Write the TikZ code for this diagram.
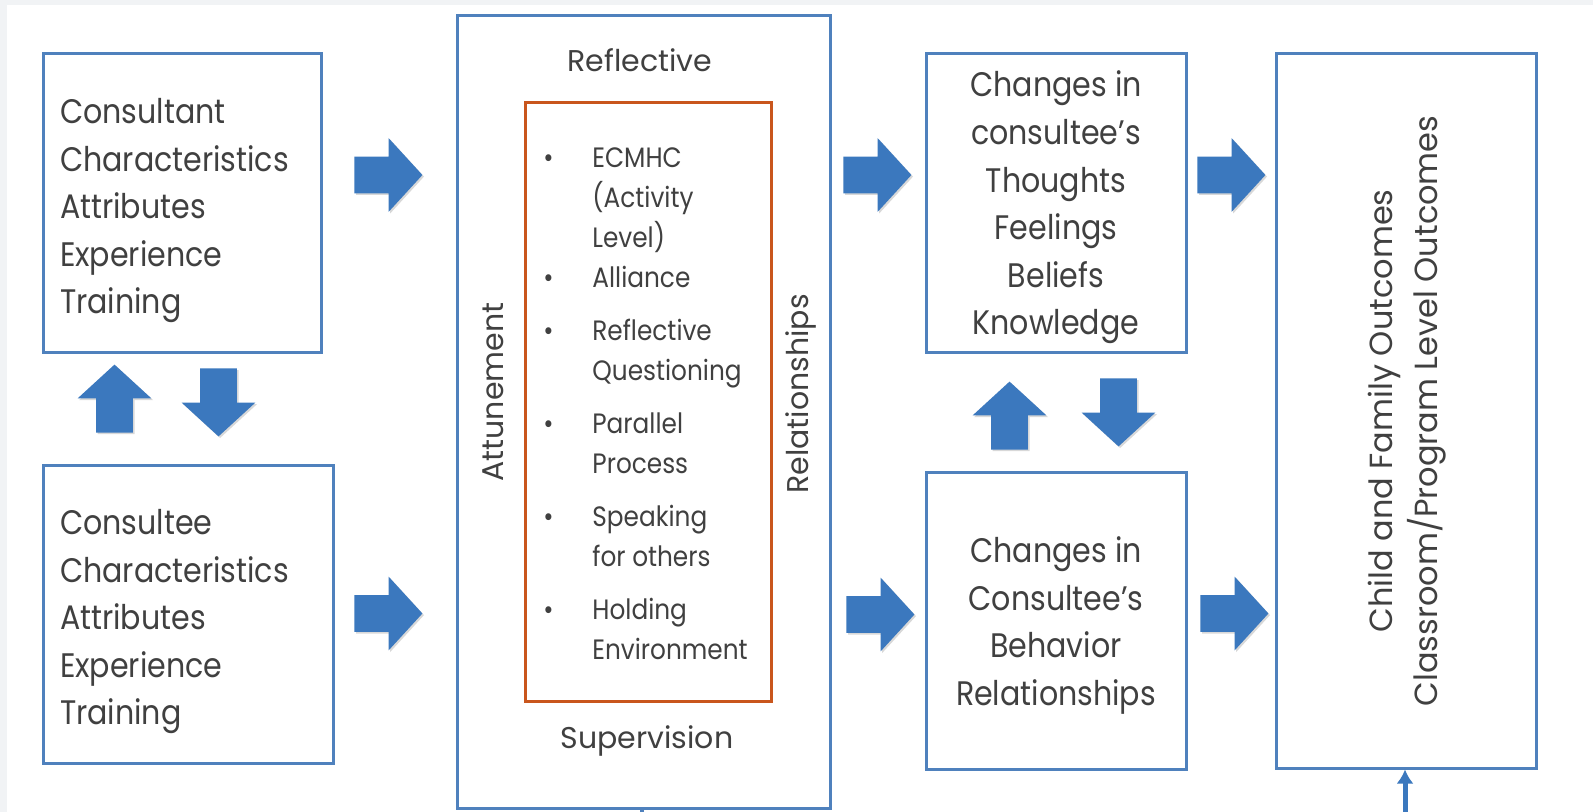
\documentclass[tikz,border=0pt]{standalone}
\usepackage{fontspec}
\setmainfont{Poppins}
\newfontfamily\narrowfont[FakeStretch=0.885,Ligatures=TeX]{Poppins}
\usetikzlibrary{shapes.arrows,shadows,arrows.meta}

\definecolor{boxblue}{HTML}{4F81BD}
\definecolor{arrowblue}{HTML}{3B78BE}
\definecolor{listorange}{HTML}{C9561D}
\definecolor{inkgray}{HTML}{404040}
\definecolor{pagegray}{HTML}{F1F3F5}

\tikzset{
  block/.style={draw=boxblue, line width=1.5pt, fill=white, inner sep=0pt, text=inkgray},
  bigfont/.style={font=\narrowfont\fontsize{17}{23.8}\selectfont},
  midfont/.style={font=\fontsize{15}{18}\selectfont, text=inkgray, inner sep=0pt},
  itemfont/.style={font=\narrowfont\fontsize{14}{20}\selectfont, text=inkgray, inner sep=0pt},
  fatarrow/.style={single arrow, fill=arrowblue, inner sep=0pt, inner ysep=9pt,
    single arrow head extend=9.25pt, minimum width=36.5pt, minimum height=34pt,
    single arrow tip angle=95, anchor=tail,
    drop shadow={opacity=.3, shadow xshift=.8pt, shadow yshift=-.8pt}},
}

\begin{document}
\begin{tikzpicture}[x=0.5pt,y=-0.5pt]
  \fill[pagegray] (0,0) rectangle (1593,812);
  \fill[white] (7,5) rectangle (1593,812);
  \useasboundingbox (0,0) rectangle (1593,812);

  % left column
  \node[block, bigfont, minimum width=139pt, minimum height=149pt, text width=122pt, align=left, text depth=92pt]
    (consultant) at (182,203) {Consultant\\Characteristics\\Attributes\\Experience\\Training};
  \node[block, bigfont, minimum width=145pt, minimum height=149pt, text width=128pt, align=left, text depth=92pt]
    (consultee) at (188,614) {Consultee\\Characteristics\\Attributes\\Experience\\Training};

  % reflective supervision
  \node[block, minimum width=186.5pt, minimum height=396pt] (mid) at (643.5,412) {};
  \node[draw=listorange, line width=1.5pt, minimum width=123pt, minimum height=299pt] (practice) at (648,402) {};
  \node[midfont, anchor=base] (reflective) at (640,72) {Reflective};
  \node[midfont, anchor=base] (supervision) at (647,748) {Supervision};
  \node[midfont, anchor=base, rotate=90] (attunement) at (503,392) {Attunement};
  \node[midfont, anchor=base, rotate=90] (relationships) at (808,394) {Relationships};
  \node[itemfont, anchor=base west] (items) at (543,168) {%
    \begin{tabular}[t]{@{}p{24.5pt}@{}l@{}}
      \textbullet & ECMHC\\
                  & (Activity\\
                  & Level)\\
      \textbullet & Alliance\\[6.5pt]
      \textbullet & Reflective\\
                  & Questioning\\[6.5pt]
      \textbullet & Parallel\\
                  & Process\\[6.5pt]
      \textbullet & Speaking\\
                  & for others\\[6.5pt]
      \textbullet & Holding\\
                  & Environment
    \end{tabular}};

  % changes in consultee
  \node[block, bigfont, minimum width=130pt, minimum height=149pt, align=center, text depth=-3pt]
    (thoughts) at (1056,203) {Changes in\\consultee's\\Thoughts\\Feelings\\Beliefs\\Knowledge};
  \node[block, bigfont, minimum width=130pt, minimum height=148.5pt, align=center, text depth=-3pt]
    (behavior) at (1056,621) {Changes in\\Consultee's\\Behavior\\Relationships};

  % outcomes
  \node[block, minimum width=130pt, minimum height=357pt] (outcomes) at (1406,411) {};
  \node[font=\fontsize{16}{22.5}\selectfont, text=inkgray, rotate=90, align=center]
    (outtext) at (1407.5,411) {Child and Family Outcomes\\Classroom/Program Level Outcomes};

  % fat arrows, placed by their tails
  \node[fatarrow] (a1) at (354,175) {};
  \node[fatarrow] (a2) at (354,613.5) {};
  \node[fatarrow] (a3) at (843,175) {};
  \node[fatarrow] (a4) at (846,614.5) {};
  \node[fatarrow] (a5) at (1197,175) {};
  \node[fatarrow] (a6) at (1200,613.5) {};
  \node[fatarrow, rotate=90] (up1) at (114.5,433) {};
  \node[fatarrow, rotate=-90] (down1) at (218.5,368) {};
  \node[fatarrow, rotate=90] (up2) at (1009.5,450) {};
  \node[fatarrow, rotate=-90] (down2) at (1118.5,378) {};

  % feeds from below
  \coordinate (feedE) at (1405,812);
  \draw[arrowblue, line width=2.5pt, -{Latex[length=7pt,width=8.5pt]}] (feedE) -- (feedE |- outcomes.south);
  \coordinate (feedM) at (642,812);
  \draw[boxblue, line width=2pt] (feedM) -- (feedM |- mid.south);
\end{tikzpicture}
\end{document}
